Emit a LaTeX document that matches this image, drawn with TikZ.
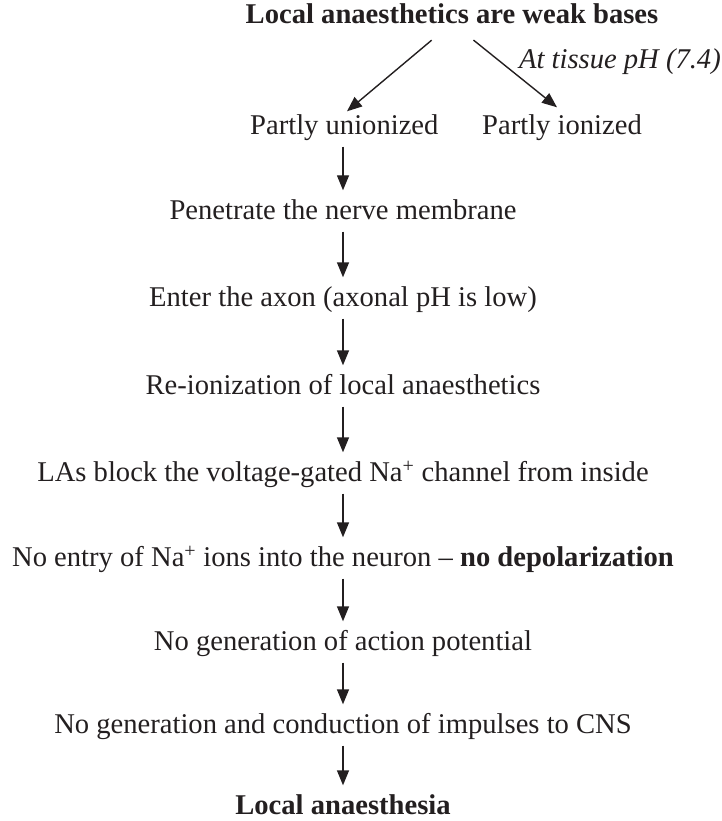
\documentclass[tikz,border=0pt]{standalone}
\usepackage{fontspec}
\setmainfont{Liberation Serif}
\usetikzlibrary{arrows.meta}
\definecolor{ink}{HTML}{231F20}
\begin{document}
\begin{tikzpicture}[x=1pt,y=1pt,
  every node/.style={font=\fontsize{28.6}{34}\selectfont, text=ink, inner xsep=0pt, inner ysep=5pt, text height=20pt, text depth=7pt},
  titlebox/.style={font=\fontsize{28.6}{34}\selectfont\bfseries},
  arr/.style={draw=ink, line width=1.4pt, -{Triangle[length=15pt,width=12pt]}},
  varr/.style={arr, shorten >=4pt}
]
\useasboundingbox (0,0) rectangle (721,-821);
\node[titlebox] (title) at (452,-17) {Local anaesthetics are weak bases};
\node[anchor=east, font=\fontsize{28.6}{34}\selectfont\itshape] (ph) at (721,-62) {At tissue pH (7.4)};
\node[anchor=west] (pu) at (250,-128) {Partly unionized};
\node[anchor=west] (pi) at (482,-128) {Partly ionized};
\node (pen) at (343,-213) {Penetrate the nerve membrane};
\node (ent) at (343,-300) {Enter the axon (axonal pH is low)};
\node (rei) at (343,-388) {Re-ionization of local anaesthetics};
\node (las) at (343,-475) {LAs block the voltage-gated Na\textsuperscript{+} channel from inside};
\node (noe) at (343,-560) {No entry of Na\textsuperscript{+} ions into the neuron -- \textbf{no depolarization}};
\node (nga) at (343,-644) {No generation of action potential};
\node (ngc) at (343,-727) {No generation and conduction of impulses to CNS};
\node[titlebox] (la) at (343,-808) {Local anaesthesia};

\draw[arr, shorten <=7pt] ([xshift=-15pt]title.south) -- ([xshift=97pt,yshift=-2pt]pu.north west);
\draw[arr, shorten <=7pt] ([xshift=16pt]title.south) -- ([xshift=75pt,yshift=2pt]pi.north west);
\draw[varr] (pu.south -| pen.north) -- (pen.north);
\draw[varr] (pen.south) -- (ent.north);
\draw[varr] (ent.south) -- (rei.north);
\draw[varr] (rei.south) -- (las.north);
\draw[varr] (las.south) -- (noe.north);
\draw[varr] (noe.south) -- (nga.north);
\draw[varr] (nga.south) -- (ngc.north);
\draw[varr] (ngc.south) -- (la.north);
\end{tikzpicture}
\end{document}
